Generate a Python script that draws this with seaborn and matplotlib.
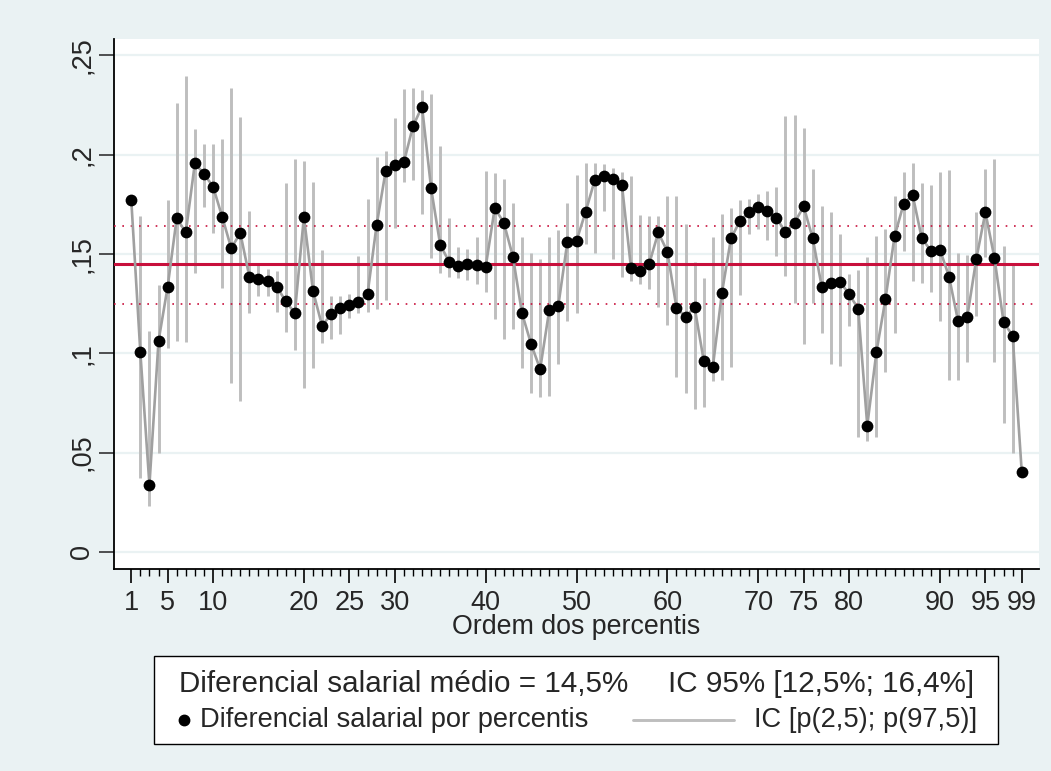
import matplotlib
matplotlib.use("Agg")
import matplotlib.pyplot as plt
import numpy as np
import pandas as pd
import seaborn as sns
from matplotlib.lines import Line2D
from matplotlib.patches import Rectangle

# Wage differential by percentile with bootstrap interval bounds
percentis = list(range(1, 100))
diferencial = [
    0.1772, 0.1004, 0.0337, 0.1062, 0.1333, 0.1680, 0.1608, 0.1957, 0.1903, 0.1839,
    0.1688, 0.1529, 0.1605, 0.1385, 0.1373, 0.1363, 0.1336, 0.1262, 0.1202, 0.1687,
    0.1314, 0.1138, 0.1197, 0.1227, 0.1242, 0.1257, 0.1297, 0.1645, 0.1918, 0.1949,
    0.1962, 0.2142, 0.2242, 0.1830, 0.1546, 0.1459, 0.1437, 0.1450, 0.1445, 0.1433,
    0.1731, 0.1657, 0.1487, 0.1202, 0.1047, 0.0920, 0.1217, 0.1240, 0.1562, 0.1566,
    0.1712, 0.1870, 0.1890, 0.1877, 0.1848, 0.1428, 0.1415, 0.1450, 0.1608, 0.1512,
    0.1229, 0.1183, 0.1232, 0.0963, 0.0930, 0.1303, 0.1578, 0.1667, 0.1710, 0.1735,
    0.1715, 0.1683, 0.1608, 0.1658, 0.1739, 0.1578, 0.1333, 0.1356, 0.1361, 0.1297,
    0.1225, 0.0636, 0.1004, 0.1272, 0.1588, 0.1752, 0.1796, 0.1578, 0.1517, 0.1521,
    0.1386, 0.1160, 0.1182, 0.1475, 0.1710, 0.1479, 0.1157, 0.1088, 0.0404,
]
ic_inf = [
    np.nan, 0.0374, 0.0233, 0.0497, 0.1027, 0.1062, 0.1059, 0.1403, 0.1734, 0.1605,
    0.1328, 0.0849, 0.0760, 0.1205, 0.1286, 0.1286, 0.1210, 0.1108, 0.1014, 0.0824,
    0.0928, 0.1051, 0.1073, 0.1096, 0.1180, 0.1202, 0.1210, 0.1222, 0.1269, 0.1630,
    0.1860, 0.1870, 0.1702, 0.1482, 0.1403, 0.1386, 0.1381, 0.1370, 0.1350, 0.1306,
    0.1172, 0.1074, 0.1121, 0.0925, 0.0799, 0.0782, 0.0785, 0.0947, 0.1163, 0.1202,
    0.1551, 0.1507, 0.1714, 0.1475, 0.1386, 0.1366, 0.1348, 0.1324, 0.1232, 0.1140,
    0.0883, 0.0802, 0.0719, 0.0732, 0.0861, 0.0866, 0.0933, 0.1294, 0.1600, 0.1625,
    0.1568, 0.1492, 0.1391, 0.1252, 0.1047, 0.1252, 0.1104, 0.0947, 0.0938, 0.1135,
    0.0581, 0.0560, 0.0578, 0.0906, 0.1104, 0.1517, 0.1366, 0.1353, 0.1308, 0.1163,
    0.0866, 0.0866, 0.0955, 0.1188, 0.1487, 0.0955, 0.0651, 0.0497, np.nan,
]
ic_sup = [
    np.nan, 0.1692, 0.1113, 0.1344, 0.1771, 0.2259, 0.2394, 0.2128, 0.2054, 0.2054,
    0.2078, 0.2335, 0.2189, 0.1715, 0.1450, 0.1423, 0.1413, 0.1856, 0.1977, 0.1970,
    0.1861, 0.1519, 0.1289, 0.1286, 0.1299, 0.1492, 0.1776, 0.1989, 0.2019, 0.2184,
    0.2331, 0.2335, 0.2325, 0.2306, 0.2044, 0.1680, 0.1537, 0.1524, 0.1585, 0.1918,
    0.1908, 0.1877, 0.1756, 0.1585, 0.1504, 0.1475, 0.1585, 0.1621, 0.1756, 0.1898,
    0.1957, 0.1957, 0.1952, 0.1932, 0.1910, 0.1890, 0.1697, 0.1692, 0.1692, 0.1794,
    0.1794, 0.1652, 0.1457, 0.1380, 0.1585, 0.1702, 0.1731, 0.1772, 0.1776, 0.1801,
    0.1818, 0.1839, 0.2192, 0.2200, 0.2133, 0.1928, 0.1742, 0.1710, 0.1600, 0.1400,
    0.1420, 0.1484, 0.1588, 0.1625, 0.1793, 0.1912, 0.1960, 0.1856, 0.1848, 0.1910,
    0.1923, 0.1504, 0.1495, 0.1709, 0.1928, 0.1979, 0.1541, 0.1449, np.nan,
]

# Average differential and its 95% interval
media = 0.145
media_inf = 0.125
media_sup = 0.164

x_ticks = [1, 5, 10, 20, 25, 30, 40, 50, 60, 70, 75, 80, 90, 95, 99]
y_ticks = [0, 0.05, 0.10, 0.15, 0.20, 0.25]
y_ticklabels = ["0", ",05", ",1", ",15", ",2", ",25"]

df = pd.DataFrame({
    "percentil": percentis,
    "diferencial": diferencial,
    "ic_inf": ic_inf,
    "ic_sup": ic_sup,
})

sns.set_theme(style="white")
plt.rcParams["font.family"] = ["Liberation Sans", "DejaVu Sans"]

BG = "#EAF2F3"
RED = "#C8103C"
CI_GREY = "#BEBEBE"
LINE_GREY = "#A0A0A0"

W, H = 1051, 771
fig = plt.figure(figsize=(W / 100, H / 100), dpi=100, facecolor=BG)
ax = fig.add_axes([114 / W, 1 - 569 / H, (1039 - 114) / W, (569 - 39) / H])
ax.set_facecolor("white")

# interval bars
ax.vlines(df["percentil"], df["ic_inf"], df["ic_sup"], color=CI_GREY,
          linewidth=2.1, zorder=2)

# mean and its interval
ax.axhline(media, color=RED, linewidth=2.2, zorder=3)
for v in (media_inf, media_sup):
    ax.axhline(v, color=RED, linewidth=1.2, linestyle=(0, (1, 4)), zorder=3)

sns.lineplot(data=df, x="percentil", y="diferencial", color=LINE_GREY,
             linewidth=1.9, ax=ax, zorder=4)
sns.scatterplot(data=df, x="percentil", y="diferencial", color="black",
                edgecolor="black", s=72, linewidth=0, ax=ax, zorder=5)

ax.set_xlim(-0.9, 100.9)
ax.set_ylim(-0.0086, 0.2582)

ax.set_yticks(y_ticks)
ax.set_yticklabels(y_ticklabels)
ax.set_xticks(x_ticks)
ax.set_xticklabels([str(t) for t in x_ticks])
ax.set_xticks(percentis, minor=True)

ax.yaxis.grid(True, color=BG, linewidth=1.6)
ax.xaxis.grid(False)
ax.set_axisbelow(True)

for s in ("top", "right"):
    ax.spines[s].set_visible(False)
for s in ("left", "bottom"):
    ax.spines[s].set_color("black")
    ax.spines[s].set_linewidth(1.3)

ax.tick_params(axis="x", which="major", length=10, width=1.2, color="black",
               labelsize=19.5, pad=5, bottom=True)
ax.tick_params(axis="x", which="minor", length=5, width=1.0, color="black",
               bottom=True)
ax.tick_params(axis="y", which="major", length=11, width=1.2, color="#333333",
               labelsize=19.5, pad=2.5, labelrotation=90, left=True)
for lab in ax.get_yticklabels():
    lab.set_va("center")

ax.set_xlabel("Ordem dos percentis", fontsize=19.3, labelpad=-1)
ax.set_ylabel("")

# legend box
box = Rectangle((154 / W, 1 - 744 / H), (998 - 154) / W, (744 - 656) / H,
                transform=fig.transFigure, facecolor="white", edgecolor="black",
                linewidth=1.0)
fig.add_artist(box)

pct = lambda v: f"{v * 100:.1f}%".replace(".", ",")
fig.text(179 / W, 1 - 692 / H, f"Diferencial salarial médio = {pct(media)}",
         ha="left", va="baseline", fontsize=21.3)
fig.text(974 / W, 1 - 692 / H, f"IC 95% [{pct(media_inf)}; {pct(media_sup)}]",
         ha="right", va="baseline", fontsize=21.3)

fig.add_artist(Line2D([184 / W], [1 - 720 / H], marker="o", color="black",
                      markersize=7.5, linestyle="none",
                      transform=fig.transFigure))
fig.text(200 / W, 1 - 727 / H, "Diferencial salarial por percentis",
         ha="left", va="baseline", fontsize=19.6)
fig.add_artist(Line2D([633 / W, 734 / W], [1 - 720 / H, 1 - 720 / H],
                      color=CI_GREY, linewidth=2.1, transform=fig.transFigure))
fig.text(977 / W, 1 - 727 / H, "IC [p(2,5); p(97,5)]",
         ha="right", va="baseline", fontsize=19.6)

fig.savefig("out.png", dpi=100, facecolor=BG)
